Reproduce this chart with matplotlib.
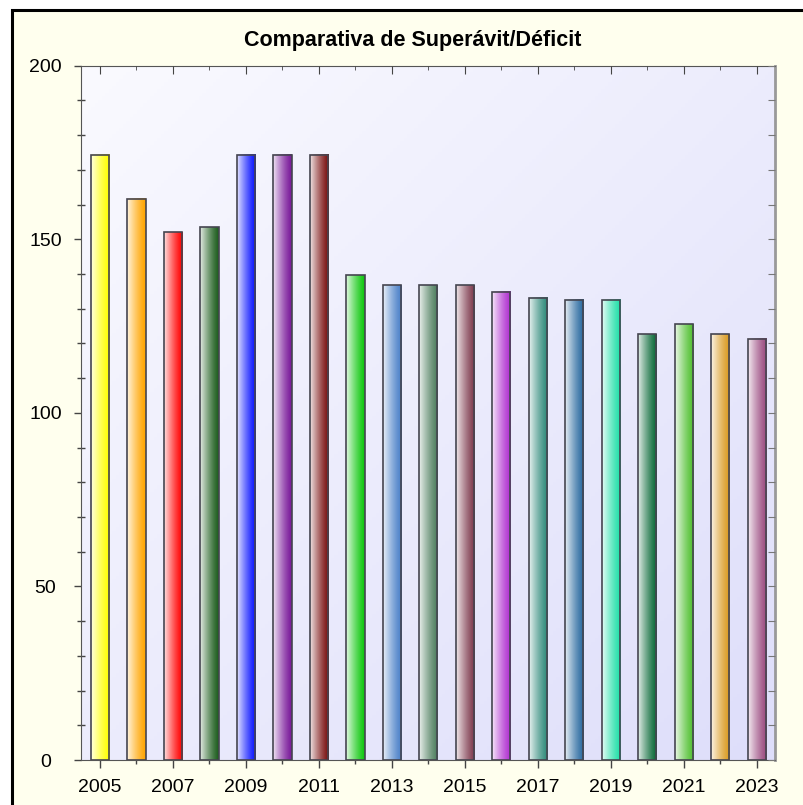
import numpy as np
import matplotlib
matplotlib.use('Agg')
import matplotlib.pyplot as plt
from matplotlib.patches import Rectangle
from matplotlib.colors import to_rgb
from matplotlib.ticker import MultipleLocator

# datos del grafico
years = [2005, 2006, 2007, 2008, 2009, 2010, 2011, 2012, 2013, 2014,
         2015, 2016, 2017, 2018, 2019, 2020, 2021, 2022, 2023]
values = [174.4, 161.7, 152.0, 153.4, 174.4, 174.4, 174.4, 139.6, 136.7, 136.7,
          136.7, 134.9, 133.2, 132.6, 132.6, 122.6, 125.5, 122.6, 121.4]
bar_colors = ['#FFFF00', '#FFA500', '#FF0000', '#1E5E1E', '#0A14FF', '#7A1A9A',
              '#7A1010', '#10C810', '#4A80C8', '#4E7E5E', '#7E3A4E', '#B030D0',
              '#2E8A7A', '#2A6AA0', '#20E0A8', '#0A6A38', '#50C030', '#DA9A20',
              '#9A4A80']
title = 'Comparativa de Superávit/Déficit'

plt.rcParams['font.family'] = ['Liberation Sans', 'DejaVu Sans']

W, H = 804, 805
fig = plt.figure(figsize=(W / 100, H / 100), dpi=100, facecolor='white')

# marco exterior
fig.patches.append(Rectangle((12 / W, -0.2), 1.3, 1.2 - 10 / H, transform=fig.transFigure,
                             facecolor='#FFFFEE', edgecolor='black', linewidth=2.2, zorder=-5))

ax = fig.add_axes([81 / W, 1 - 760 / H, (775 - 81) / W, (760 - 65.7) / H])
ax.set_facecolor('none')

# fondo degradado del area de trazado
gx, gy = np.meshgrid(np.linspace(0, 1, 200), np.linspace(0, 1, 200))
t = (gx + gy) / 2
c0 = np.array([250, 250, 255]) / 255
c1 = np.array([222, 222, 250]) / 255
bg = c0[None, None, :] * (1 - t[..., None]) + c1[None, None, :] * t[..., None]
ax.imshow(bg, extent=[0, 1, 0, 1], transform=ax.transAxes, aspect='auto', zorder=0)

width = 0.5
tt = np.linspace(0, 1, 64)
for x, v, c in zip(years, values, bar_colors):
    rgb = np.array(to_rgb(c))
    mix = 0.88 * (1 - tt) ** 1.3
    grad = rgb[None, :] * (1 - mix[:, None]) + mix[:, None]
    ax.imshow(grad[None, :, :], extent=[x - width / 2, x + width / 2, 0, v],
              aspect='auto', interpolation='bilinear', zorder=2)
ax.bar(years, values, width=width, fill=False, edgecolor='#454550', linewidth=1.2, zorder=3)

ax.set_xlim(2004.48, 2023.5)
ax.set_ylim(0, 200)

for s in ax.spines.values():
    s.set_color('#555555')
ax.spines['right'].set_color('#999999')
ax.spines['right'].set_linewidth(2)

ax.xaxis.set_major_locator(MultipleLocator(2))
ax.xaxis.set_minor_locator(MultipleLocator(1))
ax.yaxis.set_major_locator(MultipleLocator(50))
ax.yaxis.set_minor_locator(MultipleLocator(10))
ax.set_xticks(years[::2])
ax.tick_params(axis='x', which='major', direction='inout', length=11, width=1,
               color='#444444', labelsize=14, pad=8)
ax.tick_params(axis='x', which='minor', direction='out', length=3, width=1, color='#444444')
ax.tick_params(axis='y', which='major', direction='out', length=5, width=1,
               color='#444444', labelsize=14, pad=20.5)
ax.tick_params(axis='y', which='minor', direction='inout', length=6, width=1, color='#444444')
for lbl in ax.get_yticklabels():
    lbl.set_horizontalalignment('center')

# ticks superiores y derechos (hacia dentro)
axt = ax.twiny()
axt.set_xlim(ax.get_xlim())
axt.set_xticks(years[::2])
axt.xaxis.set_minor_locator(MultipleLocator(1))
axt.tick_params(axis='x', which='major', direction='in', length=6, color='#444444', labeltop=False)
axt.tick_params(axis='x', which='minor', direction='in', length=3, color='#444444')
axr = ax.twinx()
axr.set_ylim(ax.get_ylim())
axr.yaxis.set_major_locator(MultipleLocator(10))
axr.tick_params(axis='y', which='major', direction='in', length=5, color='#777777', labelright=False)
for a in (axt, axr):
    a.set_facecolor('none')
    for s in a.spines.values():
        s.set_visible(False)

fig.text(413 / W, 1 - 46 / H, title, ha='center', va='baseline',
         fontsize=15.5, fontweight='bold')

fig.savefig('out.png', dpi=100, facecolor='white')
